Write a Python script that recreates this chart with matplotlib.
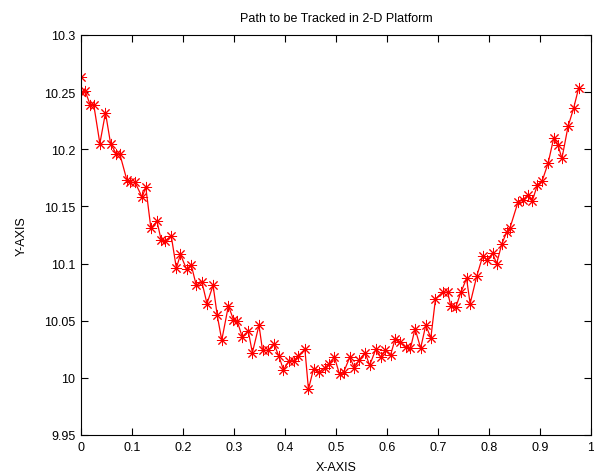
import matplotlib
matplotlib.use("Agg")
import matplotlib.pyplot as plt

# pontos
x_pos = [0.000, 0.000, 0.008, 0.018, 0.025, 0.037, 0.048, 0.058, 0.069, 0.076,
         0.090, 0.097, 0.106, 0.120, 0.127, 0.137, 0.149, 0.157, 0.165, 0.177,
         0.187, 0.195, 0.207, 0.216, 0.226, 0.237, 0.247, 0.259, 0.267, 0.276,
         0.289, 0.299, 0.306, 0.316, 0.328, 0.336, 0.349, 0.356, 0.367, 0.378,
         0.388, 0.397, 0.408, 0.418, 0.425, 0.439, 0.446, 0.456, 0.467, 0.478,
         0.486, 0.497, 0.507, 0.515, 0.527, 0.536, 0.546, 0.557, 0.566, 0.578,
         0.588, 0.597, 0.607, 0.616, 0.625, 0.637, 0.646, 0.655, 0.666, 0.676,
         0.686, 0.695, 0.709, 0.719, 0.725, 0.735, 0.745, 0.756, 0.763, 0.776,
         0.788, 0.796, 0.807, 0.815, 0.825, 0.835, 0.841, 0.857, 0.867, 0.876,
         0.885, 0.895, 0.904, 0.916, 0.927, 0.935, 0.943, 0.955, 0.966, 0.976]
y_pos = [10.263, 10.250, 10.251, 10.239, 10.239, 10.205, 10.232, 10.205, 10.196, 10.196,
         10.173, 10.171, 10.171, 10.158, 10.167, 10.131, 10.137, 10.121, 10.120, 10.124,
         10.096, 10.108, 10.095, 10.099, 10.081, 10.084, 10.065, 10.081, 10.055, 10.033,
         10.063, 10.051, 10.050, 10.036, 10.041, 10.022, 10.046, 10.024, 10.024, 10.030,
         10.019, 10.007, 10.015, 10.015, 10.019, 10.025, 9.990, 10.008, 10.005, 10.009,
         10.012, 10.018, 10.003, 10.005, 10.018, 10.009, 10.016, 10.022, 10.011, 10.025,
         10.018, 10.024, 10.020, 10.034, 10.031, 10.027, 10.026, 10.043, 10.026, 10.046,
         10.035, 10.069, 10.075, 10.075, 10.063, 10.062, 10.075, 10.087, 10.065, 10.089,
         10.107, 10.103, 10.109, 10.100, 10.117, 10.128, 10.131, 10.154, 10.156, 10.160,
         10.155, 10.169, 10.172, 10.188, 10.210, 10.204, 10.192, 10.220, 10.236, 10.254]

xticks = [0, 0.1, 0.2, 0.3, 0.4, 0.5, 0.6, 0.7, 0.8, 0.9, 1]
xtick_labels = ['0', '0.1', '0.2', '0.3', '0.4', '0.5', '0.6', '0.7', '0.8', '0.9', '1']
yticks = [9.95, 10, 10.05, 10.1, 10.15, 10.2, 10.25, 10.3]
ytick_labels = ['9.95', '10', '10.05', '10.1', '10.15', '10.2', '10.25', '10.3']

plt.rcParams['font.family'] = ['Liberation Sans', 'DejaVu Sans']

fig = plt.figure(figsize=(5.94, 4.77), dpi=100)
ax = fig.add_axes([81 / 594, 41 / 477, 510 / 594, 400 / 477])

# asterisco estilo matlab (8 raios)
ax.plot(x_pos, y_pos, '-', color='red', linewidth=0.9,
        marker=(8, 2, 0), markersize=8, markeredgewidth=0.7,
        markeredgecolor='red')

ax.set_xlim(0, 1)
ax.set_ylim(9.95, 10.3)
ax.set_xticks(xticks)
ax.set_xticklabels(xtick_labels)
ax.set_yticks(yticks)
ax.set_yticklabels(ytick_labels)
ax.tick_params(direction='in', top=True, right=True, labelsize=9, length=5, width=0.8, pad=4)
for s in ax.spines.values():
    s.set_linewidth(0.8)

ax.set_title('Path to be Tracked in 2-D Platform', fontsize=9, pad=10)
ax.set_xlabel('X-AXIS', fontsize=9, labelpad=6)
ax.set_ylabel('Y-AXIS', fontsize=9, labelpad=12)

fig.savefig('out.png', dpi=100)
